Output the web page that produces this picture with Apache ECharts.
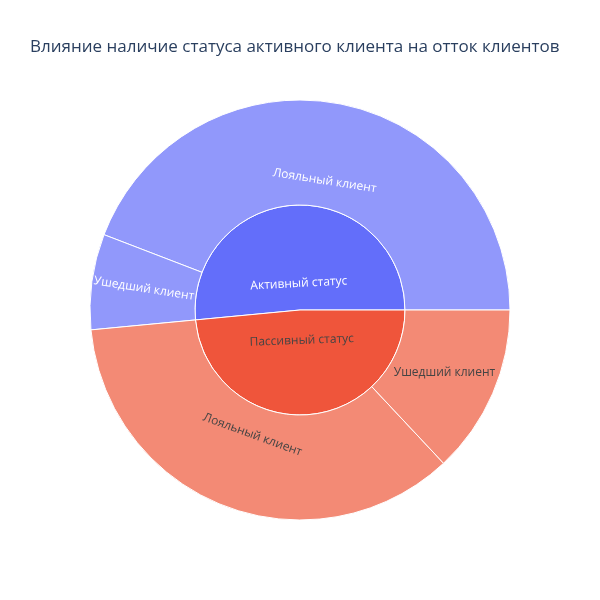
<!DOCTYPE html>
<html>
<head>
<meta charset="utf-8">
<script src="https://cdn.jsdelivr.net/npm/echarts@6/dist/echarts.min.js"></script>
<style>html,body{margin:0;padding:0;background:#fff}#c{width:600px;height:600px}</style>
</head>
<body>
<div id="c"></div>
<script>
const titleText = 'Влияние наличие статуса активного клиента на отток клиентов';
const statusNames = ['Активный статус', 'Пассивный статус'];
const childNames = ['Лояльный клиент', 'Ушедший клиент'];
const activeValues = [4416, 735];
const passiveValues = [3547, 1302];

const innerColors = ['#636efa', '#ef553b'];
const outerColors = ['#9198fb', '#f38a75'];
const textColors = ['#ffffff', '#444444'];
// per-item label tweaks: rotation (deg), blank lines above/below to nudge text toward the centre
const innerLabel = [
  {rotate: 3, above: 4, below: 0, lh: 13},
  {rotate: 2, above: 0, below: 4, lh: 11}
];
const outerLabel = [
  [{rotate: -9, above: 4, below: 0, lh: 13}, {rotate: -9, above: 0, below: 0, lh: 13}],
  [{rotate: -20, above: 0, below: 4, lh: 12}, {rotate: 0, above: 0, below: 0, lh: 13}]
];

function labelFor(cfg, color) {
  return {
    color: color,
    rotate: cfg.rotate,
    lineHeight: cfg.lh,
    formatter: function (p) {
      return '\n'.repeat(cfg.above) + p.name + '\n'.repeat(cfg.below);
    }
  };
}

const groups = [activeValues, passiveValues];
const data = statusNames.map((name, i) => ({
  name: name,
  itemStyle: {color: innerColors[i]},
  label: labelFor(innerLabel[i], textColors[i]),
  children: childNames.map((cn, j) => ({
    name: cn,
    value: groups[i][j],
    itemStyle: {color: outerColors[i]},
    label: labelFor(outerLabel[i][j], textColors[i])
  }))
}));

const chart = echarts.init(document.getElementById('c'), null, {renderer: 'canvas'});
chart.setOption({
  animation: false,
  title: {
    text: titleText,
    left: 25, top: 34,
    textStyle: {fontFamily: 'Open Sans', fontSize: 17, fontWeight: 'normal', color: '#2a3f5f'}
  },
  series: [{
    type: 'sunburst',
    center: [300, 310],
    radius: [0, 210],
    startAngle: 0,
    clockwise: false,
    sort: null,
    nodeClick: false,
    emphasis: {disabled: true},
    itemStyle: {borderColor: '#ffffff', borderWidth: 1},
    label: {fontFamily: 'Open Sans', fontSize: 12},
    levels: [
      {},
      {r0: 0, r: 105},
      {r0: 105, r: 210}
    ],
    data: data
  }]
});
</script>
</body>
</html>
